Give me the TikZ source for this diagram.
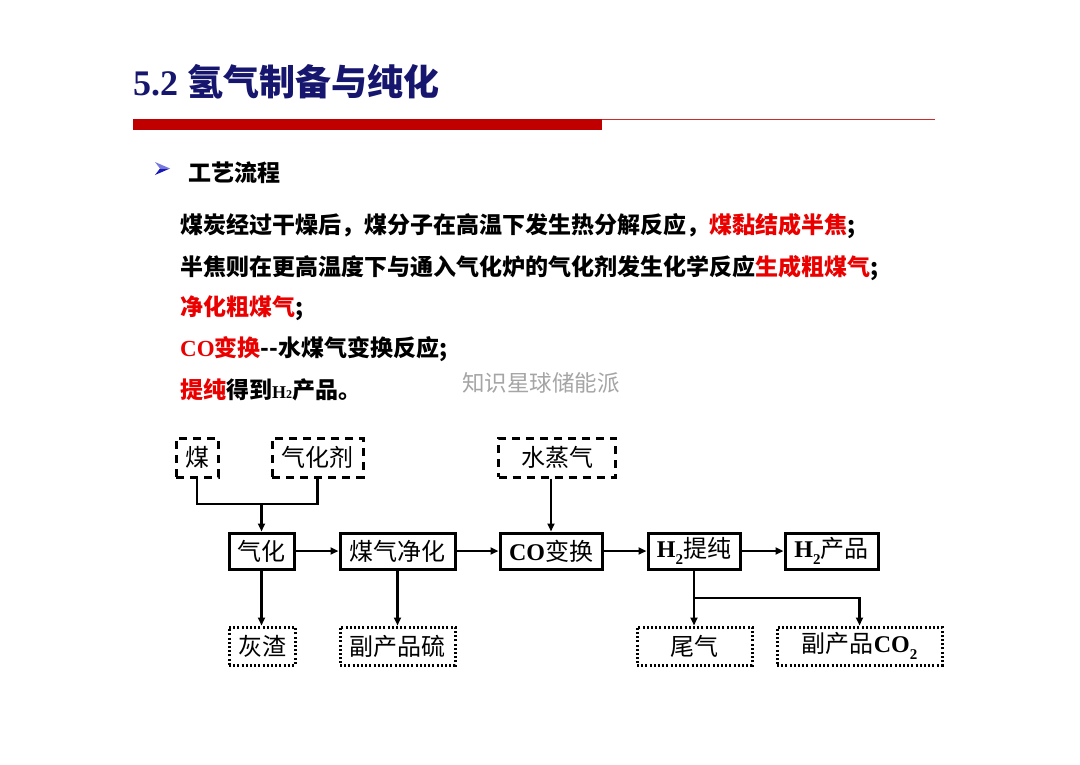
\documentclass[tikz,border=0pt]{standalone}
\usepackage{fontspec}
\usetikzlibrary{arrows.meta}
\newfontfamily\cjk{Noto Sans CJK SC}
\newfontfamily\tnr{Liberation Serif}
\definecolor{navy}{RGB}{22,22,110}
\definecolor{barred}{RGB}{192,0,0}
\definecolor{linered}{RGB}{210,40,40}
\definecolor{tred}{RGB}{235,0,0}
\definecolor{wmgray}{RGB}{165,165,165}
\definecolor{bulletdark}{RGB}{25,25,180}
\definecolor{bulletlight}{RGB}{120,120,225}
\newcommand\boxfont{\cjk\fontsize{24}{24}\selectfont}
\newcommand\bodyfont{\cjk\bfseries\fontsize{23}{23}\selectfont}
\newcommand\Hbox{{\tnr\bfseries H}\raisebox{-0.28em}{\tnr\bfseries\fontsize{15}{15}\selectfont 2}}
\tikzset{
  solidbox/.style={draw, line width=3pt, minimum height=36pt, inner sep=0pt, font=\boxfont},
  dashbox/.style={draw, line width=3pt, dash pattern=on 8pt off 6pt, minimum height=39pt, inner sep=0pt, font=\boxfont},
  dotbox/.style={draw, line width=3pt, dash pattern=on 2pt off 2.2pt, minimum height=38pt, inner sep=0pt, font=\boxfont},
  conn/.style={line width=2.4pt},
  arr/.style={line width=2.4pt, -{Triangle[length=8pt,width=7pt]}},
  bodytext/.style={anchor=west, inner sep=0pt, font=\bodyfont}
}
\begin{document}
\begin{tikzpicture}[x=1pt,y=-1pt]
\useasboundingbox (0,0) rectangle (1080,764);
\fill[white] (0,0) rectangle (1080,764);
% title
\node[anchor=west, inner sep=0pt, text=navy] (title) at (133,82)
  {{\tnr\bfseries\fontsize{36}{36}\selectfont 5.2 }{\cjk\bfseries\fontsize{36}{36}\selectfont 氢气制备与纯化}};
\fill[barred] (133,119) rectangle (602,130);
\fill[linered] (602,118.7) rectangle (935,120.3);
% bullet (3-D arrowhead)
\fill[bulletlight] (155,162) -- (170,168.5) -- (160,168.5) -- cycle;
\fill[bulletdark] (155,175) -- (170,168.5) -- (160,168.5) -- cycle;
\node[anchor=west, inner sep=0pt, font=\cjk\bfseries\fontsize{23}{23}\selectfont] (sub) at (188,173) {工艺流程};
% body
\node[bodytext] (l1) at (180,226) {煤炭经过干燥后，煤分子在高温下发生热分解反应，\textcolor{tred}{煤黏结成半焦};};
\node[bodytext] (l2) at (180,268) {半焦则在更高温度下与通入气化炉的气化剂发生化学反应\textcolor{tred}{生成粗煤气};};
\node[bodytext] (l3) at (180,308) {\textcolor{tred}{净化粗煤气};};
\node[bodytext] (l4) at (180,349) {\textcolor{tred}{{\tnr\fontsize{23}{23}\selectfont CO}变换}-{}-水煤气变换反应;};
\node[bodytext] (l5) at (180,390) {\textcolor{tred}{提纯}得到{\tnr\fontsize{18}{18}\selectfont H}{\tnr\fontsize{12}{12}\selectfont 2}产品。};
% watermark
\node[anchor=west, inner sep=0pt, text=wmgray, font=\cjk\fontsize{22.5}{22.5}\selectfont] (wm) at (462,383) {知识星球储能派};
% diagram boxes
\node[dashbox, minimum width=42pt] (mei) at (197,457.5) {煤};
\node[dashbox, minimum width=91pt] (qhj) at (317.5,457.5) {气化剂};
\node[dashbox, minimum width=117pt] (zqq) at (557,457.5) {水蒸气};
\node[solidbox, minimum width=65pt] (qh) at (261.5,551) {气化};
\node[solidbox, minimum width=115pt] (mqjh) at (397.5,551) {煤气净化};
\node[solidbox, minimum width=102pt] (co) at (551,551) {{\tnr\bfseries CO}变换};
\node[solidbox, minimum width=92pt] (tc) at (694,551) {\Hbox 提纯};
\node[solidbox, minimum width=93pt] (cp) at (831.5,551) {\Hbox 产品};
\node[dotbox, minimum width=66pt] (hz) at (262,646) {灰渣};
\node[dotbox, minimum width=115pt] (fl) at (397.5,646) {副产品硫};
\node[dotbox, minimum width=115pt] (wq) at (694.5,646) {尾气};
\node[dotbox, minimum width=165pt] (fco) at (859.5,646) {副产品{\tnr\bfseries CO}\raisebox{-0.28em}{\tnr\bfseries\fontsize{15}{15}\selectfont 2}};
% connectors
\coordinate (j1) at (261.5,504);
\coordinate (j2) at (694,598);
\draw[conn] (mei.south) |- (j1);
\draw[conn] (qhj.south) |- (j1);
\draw[arr] (j1) -- (qh.north);
\draw[arr] (zqq.south -| co.north) -- (co.north);
\draw[arr] (qh.east) -- (mqjh.west);
\draw[arr] (mqjh.east) -- (co.west);
\draw[arr] (co.east) -- (tc.west);
\draw[arr] (tc.east) -- (cp.west);
\draw[arr] (qh.south) -- (hz.north -| qh.south);
\draw[arr] (mqjh.south) -- (fl.north);
\draw[conn] (tc.south) -- (j2);
\draw[arr] (j2) -- (wq.north -| j2);
\draw[arr] (j2) -| (fco.north);
\end{tikzpicture}
\end{document}
